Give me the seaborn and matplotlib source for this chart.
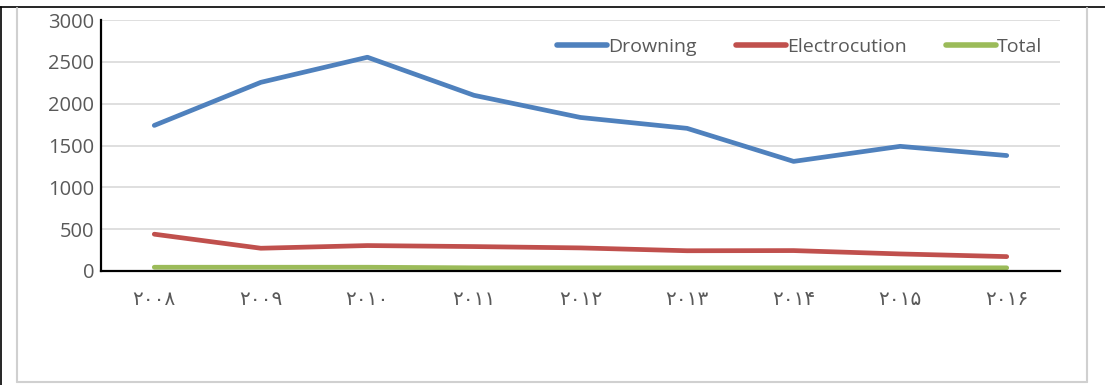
import matplotlib
matplotlib.use("Agg")
import matplotlib.pyplot as plt
from matplotlib.lines import Line2D
import seaborn as sns
import pandas as pd

years = ["۲۰۰۸", "۲۰۰۹", "۲۰۱۰", "۲۰۱۱", "۲۰۱۲", "۲۰۱۳", "۲۰۱۴", "۲۰۱۵", "۲۰۱۶"]
drowning = [1740, 2255, 2555, 2100, 1835, 1705, 1310, 1490, 1380]
electrocution = [440, 272, 304, 292, 276, 242, 244, 204, 172]
total = [45, 45, 45, 38, 38, 38, 38, 38, 38]
series_names = ["Drowning", "Electrocution", "Total"]
y_ticks = [0, 500, 1000, 1500, 2000, 2500, 3000]

colors = ["#4F81BD", "#C0504D", "#9BBB59"]

sns.set_style("white")
plt.rcParams["font.family"] = ["Open Sans", "DejaVu Sans"]

df = pd.DataFrame({
    "year": years * 3,
    "value": drowning + electrocution + total,
    "series": [n for n in series_names for _ in years],
})
df["pos"] = list(range(len(years))) * 3

fig = plt.figure(figsize=(11.05, 3.85), dpi=100)
ax = fig.add_axes([101 / 1105, 1 - 271 / 385, (1060 - 101) / 1105, (271 - 20) / 385])

sns.lineplot(data=df, x="pos", y="value", hue="series", palette=colors,
             linewidth=3.4, ax=ax, sort=False)

ax.set_xlim(-0.5, len(years) - 0.5)
ax.set_ylim(0, 3000)
ax.set_yticks(y_ticks)
ax.set_xticks(range(len(years)))
ax.set_xticklabels(years, family=["DejaVu Sans"])
ax.set_xlabel("")
ax.set_ylabel("")
ax.grid(axis="y", color="#D9D9D9", linewidth=1.2)
ax.set_axisbelow(True)
for side in ["top", "right"]:
    ax.spines[side].set_visible(False)
ax.spines["left"].set_color("black")
ax.spines["bottom"].set_color("black")
ax.spines["left"].set_linewidth(1.6)
ax.spines["bottom"].set_linewidth(1.6)
ax.tick_params(axis="y", length=0, pad=5, labelsize=14.5, labelcolor="#595959")
ax.tick_params(axis="x", length=0, pad=14, labelsize=14.5, labelcolor="#595959")

handles = [Line2D([0], [0], color=c, lw=4) for c in colors]
leg = ax.legend(handles, series_names, loc="upper right", bbox_to_anchor=(1.0, 1.0),
                ncol=3, frameon=False, fontsize=14, handlelength=2.6,
                handletextpad=0.05, columnspacing=2.0)
for t in leg.get_texts():
    t.set_color("#595959")

# outer frame lines
fig.add_artist(Line2D([0, 1], [1 - 7 / 385, 1 - 7 / 385], color="black", lw=1.2,
                      transform=fig.transFigure))
fig.add_artist(Line2D([1 / 1105, 1 / 1105], [0, 1 - 7 / 385], color="black", lw=1.2,
                      transform=fig.transFigure))
gx0, gx1, gy = 17 / 1105, 1087 / 1105, 1 - 382 / 385
fig.add_artist(Line2D([gx0, gx0], [gy, 1 - 8 / 385], color="#D0D0D0", lw=1.5,
                      transform=fig.transFigure))
fig.add_artist(Line2D([gx1, gx1], [gy, 1 - 8 / 385], color="#D0D0D0", lw=1.5,
                      transform=fig.transFigure))
fig.add_artist(Line2D([gx0, gx1], [gy, gy], color="#D0D0D0", lw=1.5,
                      transform=fig.transFigure))

fig.savefig("out.png", dpi=100)
